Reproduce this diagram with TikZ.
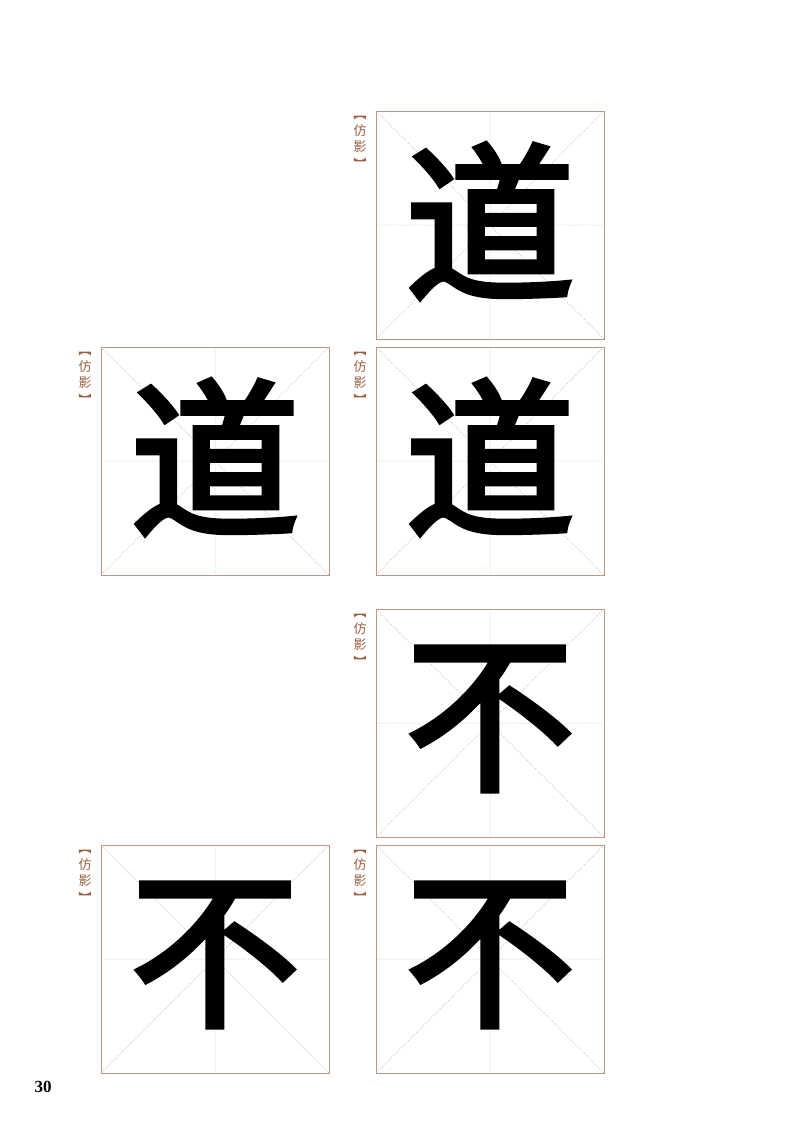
\documentclass[tikz,border=0pt]{standalone}
\usepackage{fontspec}
\newfontfamily\cjk{Noto Sans CJK SC}
\newfontfamily\cjkb[FakeBold=3]{Noto Sans CJK SC}
\setmainfont{Liberation Serif}
\definecolor{br}{RGB}{150,95,65}
\definecolor{lbr}{RGB}{190,150,130}
\definecolor{gbr}{RGB}{215,185,170}
\begin{document}
\begin{tikzpicture}[x=1pt,y=-1pt,
  frame/.style={draw=lbr,line width=0.8pt},
  guide/.style={draw=gbr,line width=0.5pt,dash pattern=on 1.5pt off 1.5pt},
  lab/.style={text=br,font=\cjk\fontsize{13}{14}\selectfont,inner sep=0pt},
  glyph/.style={font=\cjkb\fontsize{170}{170}\selectfont,inner sep=0pt}]
\path[use as bounding box] (0,0) rectangle (800,1124);
\newcommand\cell[4]{% x y name char
  \draw[guide] (#1,#2) -- ++(228,228) (#1+228,#2) -- ++(-228,228)
    (#1+114,#2) -- ++(0,228) (#1,#2+114) -- ++(228,0);
  \node[frame,minimum size=228pt,anchor=north west] (#3) at (#1,#2) {};
  \node[lab,rotate=-90] (#3t) at (#1-16,#2+3) {【};
  \node[lab] (#3a) at (#1-16,#2+20) {仿};
  \node[lab] (#3b) at (#1-16,#2+36) {影};
  \node[lab,rotate=-90] (#3u) at (#1-16,#2+53) {】};
  \node[glyph] (#3g) at (#1+114,#2+110) {#4};}
\cell{376}{111}{a}{道}
\cell{101}{347}{b}{道}
\cell{376}{347}{c}{道}
\cell{376}{609}{d}{不}
\cell{101}{845}{e}{不}
\cell{376}{845}{f}{不}
\node[font=\bfseries\fontsize{17}{17}\selectfont] (pg) at (43,1087) {30};
\end{tikzpicture}
\end{document}
